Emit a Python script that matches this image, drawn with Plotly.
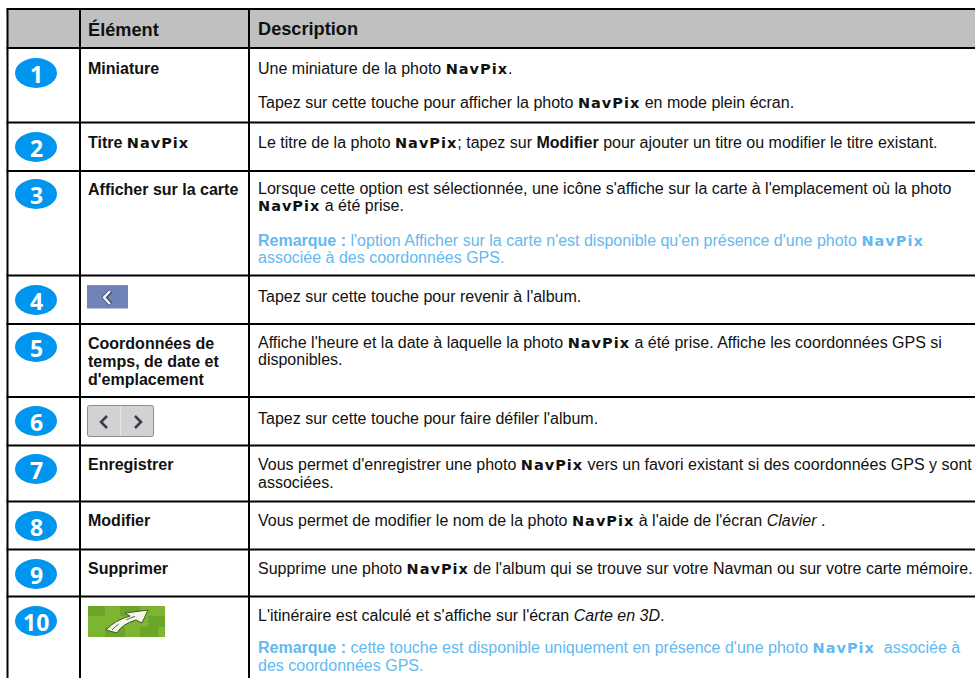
import plotly.graph_objects as go

# ---- table content ----
headers = ["Élément", "Description"]
row_numbers = ["1", "2", "3", "4", "5", "6", "7", "8", "9", "10"]
N = "<span style='font-family:DejaVu Sans;font-weight:bold;font-size:14.5px;letter-spacing:1px'>NavPix</span>"
NB = "<span style='font-family:DejaVu Sans;font-weight:bold;font-size:14.5px;letter-spacing:1px;color:#63B9F0'>NavPix</span>"
item_lines = ["<b>Miniature</b>", "<b>Titre </b>" + N, "<b>Afficher sur la carte</b>",
              "<b>Coordonnées de</b>", "<b>temps, de date et</b>", "<b>d'emplacement</b>",
              "<b>Enregistrer</b>", "<b>Modifier</b>", "<b>Supprimer</b>"]
description_lines = [
    "Une miniature de la photo " + N + ".",
    "Tapez sur cette touche pour afficher la photo " + N + " en mode plein écran.",
    "Le titre de la photo " + N + "; tapez sur <b>Modifier</b> pour ajouter un titre ou modifier le titre existant.",
    "Lorsque cette option est sélectionnée, une icône s'affiche sur la carte à l'emplacement où la photo",
    N + " a été prise.",
    "Tapez sur cette touche pour revenir à l'album.",
    "Affiche l'heure et la date à laquelle la photo " + N + " a été prise. Affiche les coordonnées GPS si",
    "disponibles.",
    "Tapez sur cette touche pour faire défiler l'album.",
    "Vous permet d'enregistrer une photo " + N + " vers un favori existant si des coordonnées GPS y sont",
    "associées.",
    "Vous permet de modifier le nom de la photo " + N + " à l'aide de l'écran <i>Clavier</i> .",
    "Supprime une photo " + N + " de l'album qui se trouve sur votre Navman ou sur votre carte mémoire.",
    "L'itinéraire est calculé et s'affiche sur l'écran <i>Carte en 3D</i>.",
]
note_lines = [
    "<b>Remarque :</b> l'option Afficher sur la carte n'est disponible qu'en présence d'une photo " + NB,
    "associée à des coordonnées GPS.",
    "<b>Remarque :</b> cette touche est disponible uniquement en présence d'une photo " + NB + "  associée à",
    "des coordonnées GPS.",
]

# ---- layout geometry (pixels of the page) ----
W, H = 975, 678
col_lines = [7.5, 80, 249]
row_lines = [9, 48, 122.5, 171, 275.5, 324, 397, 445.5, 501.5, 549.5, 596.5]
badge_y = [73, 147, 194, 300, 347, 421, 469, 526, 574, 621]
item_y = [68, 142, 189, 343, 361, 379, 464, 520, 568]
desc_y = [68, 102, 142, 188, 205, 296, 342, 359, 418, 464, 482, 520, 568, 615]
note_y = [240, 257, 647, 665]

shapes, ann = [], []


def text(x, y, s, size=16, color="#111111", anchor="left", family="Liberation Sans"):
    ann.append(dict(x=x, y=y, text=s, xref="x", yref="y", showarrow=False, xanchor=anchor, yanchor="middle",
                    align=anchor, font=dict(family=family, size=size, color=color), borderpad=0, borderwidth=0))


def line(x0, y0, x1, y1, color="#000000", width=2):
    shapes.append(dict(type="line", x0=x0, y0=y0, x1=x1, y1=y1, xref="x", yref="y", line=dict(color=color, width=width)))


def rect(x0, y0, x1, y1, fill, border=None):
    shapes.append(dict(type="rect", x0=x0, y0=y0, x1=x1, y1=y1, xref="x", yref="y", fillcolor=fill,
                       line=dict(color=border or fill, width=1 if border else 0)))


def path(d, fill=None, color="#000000", width=2):
    shapes.append(dict(type="path", path=d, xref="x", yref="y", fillcolor=fill or "rgba(0,0,0,0)",
                       line=dict(color=color, width=width)))


# header background
rect(col_lines[0], row_lines[0], W, row_lines[1], "#C0C0C0")
# grid
for y in row_lines:
    line(col_lines[0] - 1, y, W, y)
for x in col_lines:
    line(x, row_lines[0], x, H)

# header text
text(88, 29, "<b>" + headers[0] + "</b>", size=18.2)
text(257.5, 29, "<b>" + headers[1] + "</b>", size=18.2)

# numbered badges
for n, y in zip(row_numbers, badge_y):
    shapes.append(dict(type="circle", x0=15, x1=57, y0=y - 15, y1=y + 15, xref="x", yref="y",
                       fillcolor="#0096F0", line=dict(width=0)))
    text(36, y + 0.5, "<b>" + n + "</b>", size=23, color="#FFFFFF", anchor="center", family="Noto Sans")

# items
for s, y in zip(item_lines, item_y):
    text(88, y, s)
for s, y in zip(description_lines, desc_y):
    text(257.5, y, s)
for s, y in zip(note_lines, note_y):
    text(257.5, y, s, color="#63B9F0")

# back button, row 4
rect(87, 285, 128, 308.5, "#7083B6")
line(87, 285.5, 128, 285.5, "#8C8C96", 1)
path("M 110.5 291 L 104.5 297.5 L 110.5 304", color="#3C4668", width=4.5)
path("M 110 291 L 104 297.5 L 110 304", color="#F4F5FA", width=2.5)
# prev / next buttons, row 6
path("M 89.5 405.5 L 151.5 405.5 Q 153.5 405.5 153.5 407.5 L 153.5 434.5 Q 153.5 436.5 151.5 436.5 "
     "L 89.5 436.5 Q 87.5 436.5 87.5 434.5 L 87.5 407.5 Q 87.5 405.5 89.5 405.5 Z",
     fill="#D2D2D4", color="#8C8C8C", width=1)
line(120.5, 406, 120.5, 436, "#E6E6E6", 1)
path("M 107 416 L 101 422 L 107 428", color="#3A3C44", width=2.5)
path("M 135 416 L 141 422 L 135 428", color="#3A3C44", width=2.5)
# route icon, row 10
rect(88, 606, 165, 637, "#7DB531")
for x0, y0, x1, y1 in [(88, 606, 105, 616), (120, 606, 140, 616), (148, 616, 165, 627), (105, 627, 125, 637), (140, 627, 158, 637)]:
    rect(x0, y0, x1, y1, "#6CA628")
path("M 106 630 Q 115 620 130 616 L 125 613 L 148 610 L 142 623 L 136 620 Q 122 624 117 633 Z",
     fill="#F4F6EA", color="#3E5A1C", width=1)
shapes.append(dict(type="path", path="M 112 630 Q 120 621 136 616", xref="x", yref="y",
                   line=dict(color="#55604A", width=1, dash="dash")))

fig = go.Figure()
fig.add_trace(go.Scatter(x=[0, W], y=[0, H], mode="markers", marker=dict(opacity=0), hoverinfo="skip", showlegend=False))
fig.update_layout(width=W, height=H, margin=dict(l=0, r=0, t=0, b=0), paper_bgcolor="white", plot_bgcolor="white",
                  showlegend=False, shapes=shapes, annotations=ann,
                  xaxis=dict(range=[0, W], visible=False, fixedrange=True),
                  yaxis=dict(range=[H, 0], visible=False, fixedrange=True))
fig.write_html("out.html", config=dict(displayModeBar=False),
               post_script="document.body.style.margin='0';document.body.style.overflow='hidden';")
